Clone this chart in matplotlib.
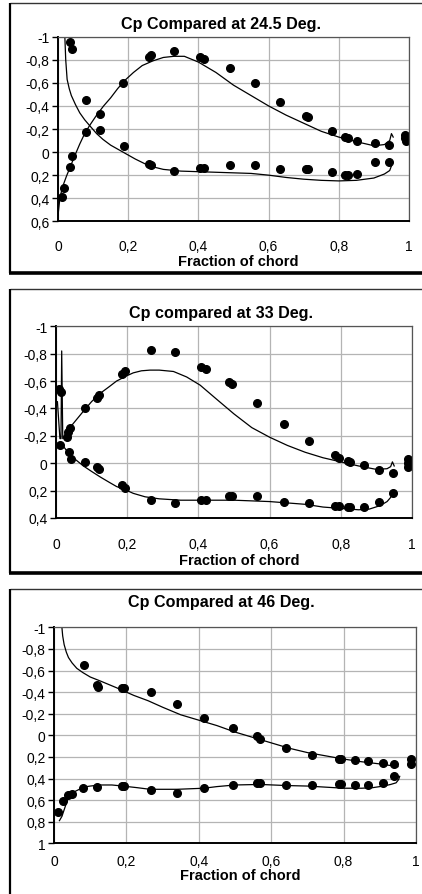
import matplotlib
matplotlib.use('Agg')
import matplotlib.pyplot as plt
from matplotlib.lines import Line2D
from matplotlib.ticker import FuncFormatter, MultipleLocator

plt.rcParams['font.family'] = ['Liberation Sans', 'DejaVu Sans']

# ---- 24.5 grados ----
x245_a = [0.010, 0.016, 0.033, 0.041, 0.081, 0.119, 0.185, 0.260, 0.266, 0.330, 0.404, 0.415,
          0.490, 0.562, 0.632, 0.706, 0.712, 0.780, 0.818, 0.827, 0.852, 0.902, 0.943, 0.990]
cp245_a = [0.39, 0.31, 0.13, 0.03, -0.17, -0.33, -0.60, -0.82, -0.84, -0.88, -0.82, -0.81,
           -0.73, -0.60, -0.43, -0.31, -0.30, -0.18, -0.13, -0.12, -0.10, -0.08, -0.06, -0.15]
x245_b = [0.033, 0.041, 0.081, 0.119, 0.187, 0.260, 0.266, 0.330, 0.404, 0.415, 0.490, 0.562,
          0.632, 0.706, 0.712, 0.780, 0.818, 0.827, 0.852, 0.902, 0.943, 0.990, 0.992]
cp245_b = [-0.95, -0.89, -0.45, -0.19, -0.05, 0.10, 0.11, 0.16, 0.14, 0.14, 0.11, 0.11,
           0.15, 0.15, 0.15, 0.17, 0.20, 0.20, 0.19, 0.09, 0.09, -0.12, -0.10]
xc245_a = [0.0, 0.005, 0.012, 0.024, 0.036, 0.048, 0.062, 0.076, 0.09, 0.11, 0.13, 0.15, 0.17,
           0.19, 0.215, 0.24, 0.27, 0.30, 0.33, 0.36, 0.40, 0.45, 0.50, 0.55, 0.60, 0.65, 0.70,
           0.75, 0.80, 0.85, 0.90, 0.93, 0.945, 0.95, 0.955]
cc245_a = [0.55, 0.41, 0.31, 0.21, 0.12, 0.03, -0.07, -0.16, -0.23, -0.32, -0.40, -0.47, -0.55,
           -0.62, -0.69, -0.75, -0.79, -0.82, -0.83, -0.83, -0.78, -0.69, -0.58, -0.49, -0.40,
           -0.32, -0.25, -0.18, -0.13, -0.09, -0.055, -0.065, -0.10, -0.16, -0.13]
xc245_b = [0.019, 0.022, 0.026, 0.032, 0.038, 0.05, 0.062, 0.076, 0.09, 0.11, 0.128, 0.15, 0.185,
           0.22, 0.26, 0.30, 0.35, 0.40, 0.45, 0.50, 0.55, 0.60, 0.65, 0.70, 0.75, 0.80, 0.85,
           0.90, 0.93, 0.945, 0.95]
cc245_b = [-1.04, -0.80, -0.63, -0.55, -0.49, -0.41, -0.34, -0.28, -0.23, -0.16, -0.11, -0.06,
           0.0, 0.06, 0.12, 0.15, 0.165, 0.17, 0.175, 0.18, 0.185, 0.20, 0.22, 0.235, 0.245,
           0.25, 0.245, 0.225, 0.19, 0.16, 0.12]

# ---- 33 grados ----
x33_a = [0.009, 0.013, 0.030, 0.035, 0.039, 0.082, 0.114, 0.120, 0.185, 0.194, 0.266, 0.335,
         0.408, 0.420, 0.485, 0.494, 0.566, 0.641, 0.712, 0.784, 0.796, 0.820, 0.827, 0.864,
         0.908, 0.947, 0.988]
cp33_a = [-0.54, -0.52, -0.19, -0.23, -0.26, -0.40, -0.48, -0.50, -0.65, -0.67, -0.83, -0.81,
          -0.70, -0.69, -0.59, -0.58, -0.44, -0.29, -0.16, -0.06, -0.04, -0.015, -0.01, 0.01,
          0.05, 0.07, -0.03]
x33_b = [0.011, 0.037, 0.041, 0.082, 0.116, 0.120, 0.185, 0.194, 0.266, 0.335, 0.408, 0.420,
         0.485, 0.494, 0.566, 0.641, 0.712, 0.784, 0.796, 0.820, 0.827, 0.864, 0.908, 0.947,
         0.988, 0.990]
cp33_b = [-0.13, -0.08, -0.03, -0.01, 0.03, 0.04, 0.16, 0.18, 0.27, 0.29, 0.27, 0.27,
          0.24, 0.24, 0.24, 0.285, 0.29, 0.31, 0.31, 0.32, 0.32, 0.32, 0.28, 0.22,
          0.0, 0.03]
xc33_a = [0.0, 0.004, 0.011, 0.014, 0.016, 0.019, 0.025, 0.039, 0.058, 0.077, 0.10, 0.124, 0.15,
          0.17, 0.20, 0.217, 0.24, 0.264, 0.29, 0.33, 0.367, 0.405, 0.45, 0.50, 0.55, 0.60, 0.65,
          0.70, 0.75, 0.80, 0.85, 0.90, 0.93, 0.94, 0.945, 0.95]
cc33_a = [-0.45, -0.45, -0.18, -0.18, -0.82, -0.18, -0.20, -0.26, -0.32, -0.38, -0.45, -0.51,
          -0.56, -0.60, -0.64, -0.66, -0.675, -0.68, -0.68, -0.67, -0.63, -0.57, -0.47, -0.36,
          -0.26, -0.19, -0.13, -0.08, -0.04, -0.01, 0.02, 0.045, 0.04, 0.025, -0.01, 0.02]
xc33_b = [0.019, 0.039, 0.058, 0.077, 0.10, 0.124, 0.15, 0.17, 0.20, 0.217, 0.25, 0.29, 0.35,
          0.40, 0.50, 0.60, 0.65, 0.70, 0.75, 0.80, 0.85, 0.88, 0.91, 0.93, 0.94, 0.95]
cc33_b = [-0.13, -0.06, -0.02, 0.02, 0.06, 0.10, 0.14, 0.17, 0.20, 0.22, 0.245, 0.26, 0.27,
          0.27, 0.27, 0.28, 0.29, 0.30, 0.32, 0.33, 0.34, 0.335, 0.31, 0.28, 0.25, 0.20]

# ---- 46 grados ----
x46_a = [0.083, 0.118, 0.121, 0.187, 0.193, 0.267, 0.339, 0.414, 0.495, 0.560, 0.569, 0.641,
         0.714, 0.787, 0.792, 0.831, 0.868, 0.910, 0.940, 0.987, 0.987]
cp46_a = [-0.65, -0.47, -0.45, -0.44, -0.44, -0.40, -0.29, -0.16, -0.07, 0.01, 0.03, 0.12,
          0.18, 0.22, 0.22, 0.23, 0.24, 0.26, 0.265, 0.22, 0.27]
x46_b = [0.012, 0.026, 0.040, 0.049, 0.081, 0.120, 0.187, 0.193, 0.267, 0.339, 0.414, 0.495,
         0.560, 0.569, 0.641, 0.714, 0.787, 0.792, 0.831, 0.868, 0.910, 0.940]
cp46_b = [0.71, 0.61, 0.55, 0.54, 0.49, 0.475, 0.47, 0.47, 0.51, 0.53, 0.49, 0.46,
          0.445, 0.44, 0.46, 0.46, 0.455, 0.455, 0.46, 0.46, 0.44, 0.38]
xc46_a = [0.021, 0.024, 0.028, 0.034, 0.04, 0.05, 0.063, 0.08, 0.10, 0.13, 0.173, 0.22, 0.26,
          0.30, 0.35, 0.40, 0.45, 0.50, 0.55, 0.60, 0.65, 0.70, 0.75, 0.80, 0.85, 0.90, 0.93, 0.95]
cc46_a = [-1.03, -0.92, -0.84, -0.77, -0.72, -0.67, -0.62, -0.58, -0.54, -0.50, -0.44, -0.37,
          -0.32, -0.26, -0.19, -0.14, -0.09, -0.03, 0.02, 0.07, 0.12, 0.16, 0.19, 0.22, 0.245,
          0.265, 0.28, 0.29]
xc46_b = [0.015, 0.022, 0.03, 0.037, 0.044, 0.05, 0.058, 0.07, 0.081, 0.10, 0.127, 0.16, 0.19,
          0.23, 0.265, 0.30, 0.34, 0.414, 0.45, 0.50, 0.57, 0.64, 0.70, 0.75, 0.80, 0.85, 0.88,
          0.91, 0.93, 0.945, 0.952, 0.955]
cc46_b = [0.79, 0.75, 0.67, 0.60, 0.56, 0.535, 0.52, 0.50, 0.48, 0.47, 0.46, 0.46, 0.47,
          0.485, 0.50, 0.50, 0.50, 0.49, 0.475, 0.46, 0.455, 0.465, 0.47, 0.48, 0.49, 0.49,
          0.485, 0.47, 0.455, 0.44, 0.41, 0.38]

W, H = 422, 895
fig = plt.figure(figsize=(W / 100, H / 100), dpi=100)


def caja(l, t, r, b):
    # pixeles -> fracciones de figura
    return [l / W, 1 - b / H, (r - l) / W, (b - t) / H]


def linea(x0, y0, x1, y1, lw, color='black'):
    fig.add_artist(Line2D([x0 / W, x1 / W], [1 - y0 / H, 1 - y1 / H],
                          transform=fig.transFigure, lw=lw, color=color,
                          solid_capstyle='butt'))


# decimales con coma, como en el Excel original
coma = FuncFormatter(lambda v, p: ('%g' % round(v, 2)).replace('.', ',') if abs(v) > 1e-9 else '0')

# titulo, caja de ejes (px), ymax, marco arriba/abajo, y del titulo, pad ticks x, y del xlabel
paneles = [
    ('Cp Compared at 24.5 Deg.', (58, 37.7, 409, 222.3), 0.6, 3.5, 274, 25, 12.4, 262,
     (x245_a, cp245_a, x245_b, cp245_b, xc245_a, cc245_a, xc245_b, cc245_b)),
    ('Cp compared at 33 Deg.', (56, 327.3, 412, 519), 0.4, 289.5, 574, 313.5, 14, 561,
     (x33_a, cp33_a, x33_b, cp33_b, xc33_a, cc33_a, xc33_b, cc33_b)),
    ('Cp Compared at 46 Deg.', (54, 628.3, 416, 844.3), 1.0, 590, 905, 603, 7.8, 876,
     (x46_a, cp46_a, x46_b, cp46_b, xc46_a, cc46_a, xc46_b, cc46_b)),
]

for titulo, (l, t, r, b), ymax, ftop, fbot, ytit, padx, ylab, d in paneles:
    # marco del grafico (estilo Excel)
    linea(9.5, ftop, 430, ftop, 1.0, '#333333')
    linea(10, ftop, 10, fbot, 1.6)
    linea(9, fbot, 430, fbot, 2.6)

    ax = fig.add_axes(caja(l, t, r, b))
    ax.plot(d[4], d[5], color='black', lw=0.9)
    ax.plot(d[6], d[7], color='black', lw=0.9)
    ax.plot(d[0], d[1], 'o', color='black', ms=5.5, ls='none')
    ax.plot(d[2], d[3], 'o', color='black', ms=5.5, ls='none')
    ax.set_xlim(0, 1)
    ax.set_ylim(ymax, -1)
    ax.xaxis.set_major_locator(MultipleLocator(0.2))
    ax.yaxis.set_major_locator(MultipleLocator(0.2))
    ax.xaxis.set_major_formatter(coma)
    ax.yaxis.set_major_formatter(coma)
    ax.grid(True, color='#b4b4b4', lw=0.9)
    ax.set_axisbelow(True)
    for s in ['top', 'right']:
        ax.spines[s].set_color('#555555')
        ax.spines[s].set_linewidth(0.9)
    for s in ['left', 'bottom']:
        ax.spines[s].set_linewidth(1.4)
    ax.tick_params(axis='y', direction='out', length=4, width=1, pad=2, labelsize=10)
    ax.tick_params(axis='x', length=0, pad=padx, labelsize=10)
    fig.text((l + r) / 2 / W + 0.012, 1 - ylab / H, 'Fraction of chord', ha='center',
             va='center', fontweight='bold', fontsize=10.5)
    fig.text(221 / W, 1 - ytit / H, titulo, ha='center', va='center',
             fontweight='bold', fontsize=11.6)

fig.savefig('out.png', dpi=100)
